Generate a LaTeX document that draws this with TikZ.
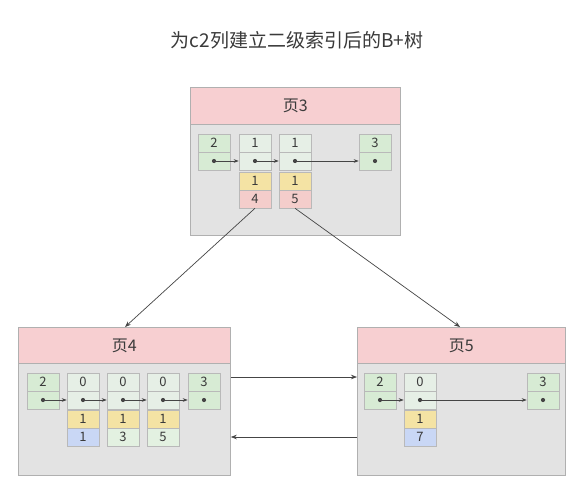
\documentclass[tikz,border=0pt]{standalone}
\usepackage{fontspec}
\setmainfont{Noto Sans CJK SC}
\usetikzlibrary{arrows.meta}
\definecolor{hdr}{HTML}{F7CFD1}
\definecolor{bodyg}{HTML}{E3E3E3}
\definecolor{pborder}{HTML}{B0B0B0}
\definecolor{cgreen}{HTML}{D7EBD4}
\definecolor{clight}{HTML}{E6EFE6}
\definecolor{cyellow}{HTML}{F4E3A4}
\definecolor{cpink}{HTML}{F4CDCB}
\definecolor{cblue}{HTML}{C9D7F5}
\definecolor{txt}{HTML}{3A3A3A}
\definecolor{lin}{HTML}{454545}
\begin{document}
\begin{tikzpicture}[x=1pt,y=-1pt,
  pagebody/.style={draw=pborder, fill=bodyg, line width=0.8pt, inner sep=0pt, minimum height=148pt, anchor=north west},
  pagehead/.style={draw=pborder, fill=hdr, line width=0.8pt, inner sep=0pt, minimum height=37pt, anchor=north west, text=txt, font=\fontsize{16}{18}\selectfont},
  cell/.style={draw=gray!55, line width=0.5pt, minimum width=32pt, minimum height=18pt, inner sep=0pt, text=txt, font=\fontsize{13}{15}\selectfont},
  cg/.style={cell, fill=cgreen},
  cl/.style={cell, fill=clight},
  cy/.style={cell, fill=cyellow},
  cp/.style={cell, fill=cpink},
  cb/.style={cell, fill=cblue},
  cgn/.style={cell, fill=cgreen!70},
  ptr/.style={draw=lin, line width=0.7pt, -{Stealth[length=5pt,width=3.6pt]}},
  link/.style={draw=lin, line width=0.7pt, -{Stealth[length=6pt,width=4.5pt]}},
  dot/.style={circle, fill=lin, inner sep=0pt, minimum size=4.2pt}
]
\useasboundingbox (0,0) rectangle (575,490);
\fill[white] (0,0) rectangle (575,490);

\node[text=txt, font=\fontsize{19}{22}\selectfont] (title) at (297,40) {为c2列建立二级索引后的B+树};

% ---------- page 3 ----------
\node[pagebody, minimum width=210pt] (p3) at (190,87) {};
\node[pagehead, minimum width=210pt] (p3h) at (190,87) {页3};

\node[cg] (a1) at (214,143) {2};
\node[cg] (a1p) at (214,161) {};
\node[cl] (a2) at (255,143) {1};
\node[cl] (a2p) at (255,161) {};
\node[cy] (a2k) at (255,181) {1};
\node[cp] (a2v) at (255,199) {4};
\node[cl] (a3) at (295,143) {1};
\node[cl] (a3p) at (295,161) {};
\node[cy] (a3k) at (295,181) {1};
\node[cp] (a3v) at (295,199) {5};
\node[cg] (a4) at (375,143) {3};
\node[cg] (a4p) at (375,161) {};
\foreach \n in {a1p,a2p,a3p,a4p} \node[dot] at (\n.center) {};
\draw[ptr] (a1p.center) -- (a2p.west);
\draw[ptr] (a2p.center) -- (a3p.west);
\draw[ptr] (a3p.center) -- (a4p.west);

% ---------- page 4 ----------
\node[pagebody, minimum width=212pt] (p4) at (18,327) {};
\node[pagehead, minimum width=212pt, minimum height=36pt] (p4h) at (18,327) {页4};

\node[cg] (b1) at (43,382) {2};
\node[cg] (b1p) at (43,400) {};
\node[cl] (b2) at (83,382) {0};
\node[cl] (b2p) at (83,400) {};
\node[cy] (b2k) at (83,419) {1};
\node[cb] (b2v) at (83,437) {1};
\node[cl] (b3) at (123,382) {0};
\node[cl] (b3p) at (123,400) {};
\node[cy] (b3k) at (123,419) {1};
\node[cgn] (b3v) at (123,437) {3};
\node[cl] (b4) at (163,382) {0};
\node[cl] (b4p) at (163,400) {};
\node[cy] (b4k) at (163,419) {1};
\node[cgn] (b4v) at (163,437) {5};
\node[cg] (b5) at (204,382) {3};
\node[cg] (b5p) at (204,400) {};
\foreach \n in {b1p,b2p,b3p,b4p,b5p} \node[dot] at (\n.center) {};
\draw[ptr] (b1p.center) -- (b2p.west);
\draw[ptr] (b2p.center) -- (b3p.west);
\draw[ptr] (b3p.center) -- (b4p.west);
\draw[ptr] (b4p.center) -- (b5p.west);

% ---------- page 5 ----------
\node[pagebody, minimum width=208pt] (p5) at (357,327) {};
\node[pagehead, minimum width=208pt, minimum height=36pt] (p5h) at (357,327) {页5};

\node[cg] (c1) at (380,382) {2};
\node[cg] (c1p) at (380,400) {};
\node[cl] (c2) at (420,382) {0};
\node[cl] (c2p) at (420,400) {};
\node[cy] (c2k) at (420,419) {1};
\node[cb] (c2v) at (420,437) {7};
\node[cg] (c3) at (543,382) {3};
\node[cg] (c3p) at (543,400) {};
\foreach \n in {c1p,c2p,c3p} \node[dot] at (\n.center) {};
\draw[ptr] (c1p.center) -- (c2p.west);
\draw[ptr] (c2p.center) -- (c3p.west);

% ---------- links between pages ----------
\draw[link] (a2v.south) -- (p4h.north west -| 125,0);
\draw[link] (a3v.south) -- (p5h.north west -| 460,0);
\draw[link] (p4.north east |- 0,377) -- (p5.north west |- 0,377);
\draw[link] (p5.north west |- 0,437) -- (p4.north east |- 0,437);
\end{tikzpicture}
\end{document}
